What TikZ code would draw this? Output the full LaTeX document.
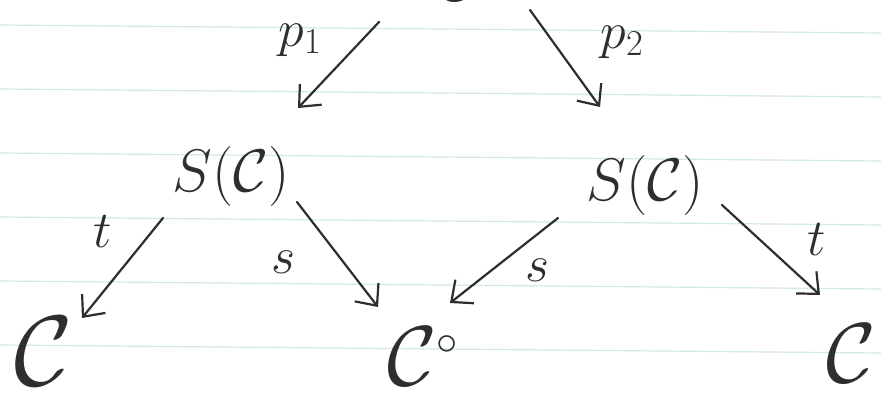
\RequirePackage{fix-cm}
\documentclass[tikz,border=0pt]{standalone}
\usetikzlibrary{arrows.meta,calc}
\definecolor{ink}{HTML}{2E2E2E}
\definecolor{rulecol}{HTML}{D2E9E5}
\begin{document}
\begin{tikzpicture}[x=1pt,y=-1pt,
  obj/.style={inner sep=0pt, text=ink},
  huge/.style={obj, font=\fontsize{100}{110}\selectfont},
  big/.style={obj, font=\fontsize{85}{95}\selectfont},
  mid/.style={obj, font=\fontsize{60}{66}\selectfont},
  lab/.style={obj, font=\fontsize{52}{56}\selectfont},
  arr/.style={draw=ink, line width=2.2pt, line cap=round, line join=round,
    -{Straight Barb[length=17pt,width=30pt,line width=2.2pt]}},
  paper/.style={draw=rulecol, line width=1.2pt}]
\fill[white] (0,0) rectangle (881,403);
\useasboundingbox (0,0) rectangle (881,403);
\clip (0,0) rectangle (881,403);
\foreach \y in {25,89,153,217,281,345} \draw[paper] (0,\y) -- (881,\y+8);

\node[big] (top) at (462,-29) {$\mathcal{C}$};
\node[mid] (sl) at (231,177) {$S(\mathcal{C})$};
\node[mid] (sr) at (645,186) {$S(\mathcal{C})$};
\node[huge] (bl) at (44,351) {$\mathcal{C}$};
\node[big] (bm) at (423,356) {$\mathcal{C}^{\scriptscriptstyle\circ}$};
\node[big] (br) at (851,353) {$\mathcal{C}$};

\node[lab] (lp1) at (300,40) {$p_1$};
\node[lab] (lp2) at (622,42) {$p_2$};
\node[lab] (lt1) at (103,232) {$t$};
\node[lab] (ls1) at (283,262) {$s$};
\node[lab] (ls2) at (537,270) {$s$};
\node[lab] (lt2) at (817,240) {$t$};

\draw[arr] ([shift={(-83,51)}]top.center) -- ([shift={(67,-69)}]sl.center);
\draw[arr] ([shift={(68,39)}]top.center) -- ([shift={(-45,-79)}]sr.center);
\draw[arr] ([shift={(-68,41)}]sl.center) -- ([shift={(38,-33)}]bl.center);
\draw[arr] ([shift={(66,25)}]sl.center) -- ([shift={(-45,-49)}]bm.center);
\draw[arr] ([shift={(-87,32)}]sr.center) -- ([shift={(27,-53)}]bm.center);
\draw[arr] ([shift={(77,19)}]sr.center) -- ([shift={(-31,-58)}]br.center);
\end{tikzpicture}
\end{document}
